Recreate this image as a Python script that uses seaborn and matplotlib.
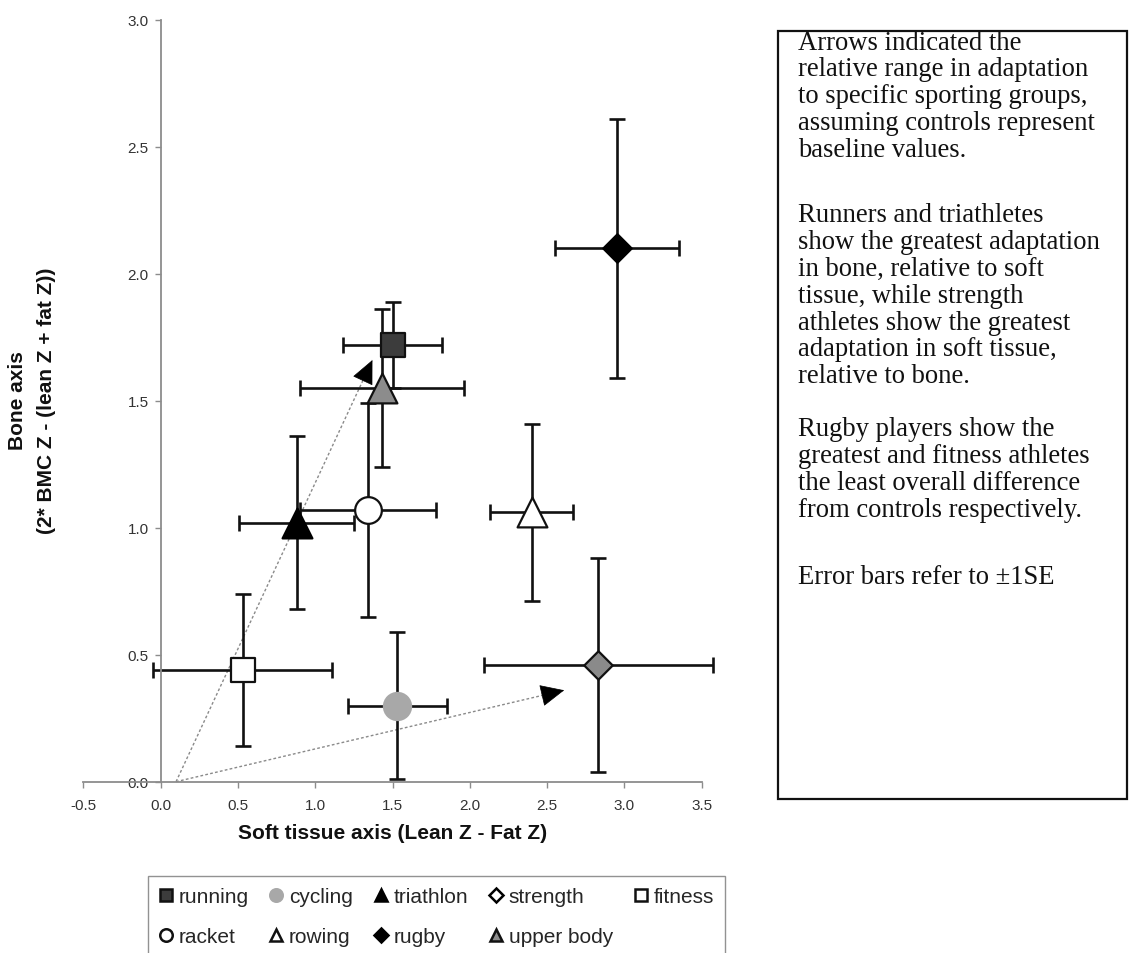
import matplotlib
matplotlib.use("Agg")
import matplotlib.pyplot as plt
from matplotlib.lines import Line2D
from matplotlib.patches import Rectangle
import seaborn as sns
import pandas as pd

# ---- data -------------------------------------------------------------
groups = ["running", "cycling", "triathlon", "strength", "fitness",
          "racket", "rowing", "rugby", "upper body"]
soft_tissue = [1.50, 1.53, 0.88, 2.83, 0.53, 1.34, 2.40, 2.95, 1.43]
bone = [1.72, 0.30, 1.02, 0.46, 0.44, 1.07, 1.06, 2.10, 1.55]
soft_tissue_se = [0.32, 0.32, 0.37, 0.74, 0.58, 0.44, 0.27, 0.40, 0.53]
bone_se = [0.17, 0.29, 0.34, 0.42, 0.30, 0.42, 0.35, 0.51, 0.31]

# arrows from the control baseline towards the extreme groups
arrow_start = [(0.10, 0.0), (0.10, 0.0)]
arrow_end = [(1.37, 1.66), (2.61, 0.36)]

x_ticks = [-0.5, 0.0, 0.5, 1.0, 1.5, 2.0, 2.5, 3.0, 3.5]
y_ticks = [0.0, 0.5, 1.0, 1.5, 2.0, 2.5, 3.0]

df = pd.DataFrame({"group": groups, "soft": soft_tissue, "bone": bone,
                   "soft_se": soft_tissue_se, "bone_se": bone_se})

# marker style per group: (marker, face, edge, size)
styles = {
    "running":    ("s", "#3c3c3c", "#111111", 300),
    "cycling":    ("o", "#a8a8a8", "#a8a8a8", 380),
    "triathlon":  ("^", "#000000", "#000000", 460),
    "strength":   ("D", "#8a8a8a", "#111111", 210),
    "fitness":    ("s", "#ffffff", "#111111", 300),
    "racket":     ("o", "#ffffff", "#111111", 370),
    "rowing":     ("^", "#ffffff", "#111111", 460),
    "rugby":      ("D", "#000000", "#000000", 210),
    "upper body": ("^", "#8c8c8c", "#111111", 460),
}

sns.set_theme(style="white")
plt.rcParams["font.family"] = ["Liberation Sans", "DejaVu Sans"]

fig = plt.figure(figsize=(11.3, 9.54), dpi=100)
ax = fig.add_axes([83.3 / 1130, 1 - 782.7 / 954,
                   (701.7 - 83.3) / 1130, (782.7 - 20.7) / 954])
ax.set_facecolor("white")

# error bars (±1 SE)
ax.errorbar(df["soft"], df["bone"], xerr=df["soft_se"], yerr=df["bone_se"],
            fmt="none", ecolor="#111111", elinewidth=1.9, capsize=5.5,
            capthick=1.9, zorder=2, clip_on=False)

# group means
for _, row in df.iterrows():
    m, fc, ec, s = styles[row["group"]]
    sns.scatterplot(x=[row["soft"]], y=[row["bone"]], marker=m, s=s,
                    color=fc, edgecolor=ec, linewidth=1.6, ax=ax,
                    zorder=4, legend=False, clip_on=False)

# dotted arrows
for (x0, y0), (x1, y1) in zip(arrow_start, arrow_end):
    ax.plot([x0, x1], [y0, y1], linestyle=(0, (2.0, 1.6)), color="#8a8a8a",
            linewidth=1.0, zorder=1, clip_on=False)
    dx, dy = x1 - x0, y1 - y0
    ax.annotate("", xy=(x1, y1), xytext=(x1 - dx * 0.01, y1 - dy * 0.01),
                arrowprops=dict(arrowstyle="-|>,head_length=1.3,head_width=0.6",
                                color="black", lw=0.5, shrinkA=0, shrinkB=0),
                zorder=3)

ax.set_xlim(-0.5, 3.5)
ax.set_ylim(0.0, 3.0)
ax.set_xticks(x_ticks)
ax.set_yticks(y_ticks)
ax.set_xticklabels([f"{v:.1f}" for v in x_ticks])
ax.set_yticklabels([f"{v:.1f}" for v in y_ticks])

for side in ["top", "right"]:
    ax.spines[side].set_visible(False)
ax.spines["left"].set_position(("data", 0.0))
for side in ["left", "bottom"]:
    ax.spines[side].set_color("#8c8c8c")
    ax.spines[side].set_linewidth(1.3)
ax.tick_params(axis="both", which="major", direction="out", length=4,
               width=1.0, color="#8c8c8c", labelsize=11, labelcolor="#333333",
               left=True, bottom=True)
ax.tick_params(axis="x", pad=7.5)
ax.tick_params(axis="y", pad=4.5)

fig.text(392.5 / 1130, 1 - 834 / 954, "Soft tissue axis (Lean Z - Fat Z)",
         ha="center", va="center", fontsize=15, fontweight="bold",
         color="#111111")
fig.text(18 / 1130, 1 - 401 / 954, "Bone axis",
         ha="center", va="center", rotation=90, fontsize=15,
         fontweight="bold", color="#111111")
fig.text(47 / 1130, 1 - 401 / 954, "(2* BMC Z - (lean Z + fat Z))",
         ha="center", va="center", rotation=90, fontsize=15,
         fontweight="bold", color="#111111")

# legend below the plot
legend_style = {
    "running":    ("s", "#3c3c3c", "#111111"),
    "cycling":    ("o", "#a8a8a8", "#a8a8a8"),
    "triathlon":  ("^", "#000000", "#000000"),
    "strength":   ("D", "#ffffff", "#000000"),
    "fitness":    ("s", "#ffffff", "#111111"),
    "racket":     ("o", "#ffffff", "#111111"),
    "rowing":     ("^", "#ffffff", "#111111"),
    "rugby":      ("D", "#000000", "#000000"),
    "upper body": ("^", "#8c8c8c", "#111111"),
}
order = ["running", "racket", "cycling", "rowing", "triathlon", "rugby",
         "strength", "upper body", "fitness"]
handles = []
for g in order:
    m, fc, ec = legend_style[g]
    ms = 9 if m != "D" else 7
    handles.append(Line2D([], [], linestyle="none", marker=m, markersize=ms,
                          markerfacecolor=fc, markeredgecolor=ec,
                          markeredgewidth=1.8, label=g))
leg = fig.legend(handles=handles, loc="upper left", ncol=5,
                 bbox_to_anchor=(148 / 1130, 1 - 877 / 954),
                 frameon=True, fancybox=False, fontsize=15,
                 handlelength=0.6, handletextpad=0.3, columnspacing=1.05,
                 borderpad=0.55, labelspacing=0.98, borderaxespad=0)
leg.get_frame().set_edgecolor("#777777")
leg.get_frame().set_linewidth(1.0)

# explanatory text box
fig.patches.append(Rectangle((778 / 1130, 1 - 800 / 954),
                             (1127 - 778) / 1130, (800 - 32) / 954,
                             transform=fig.transFigure, fill=False,
                             edgecolor="#111111", linewidth=1.6))
paragraphs = [
    ["Arrows indicated the", "relative range in adaptation",
     "to specific sporting groups,", "assuming controls represent",
     "baseline values."],
    ["Runners and triathletes", "show the greatest adaptation",
     "in bone, relative to soft", "tissue, while strength",
     "athletes show the greatest", "adaptation in soft tissue,",
     "relative to bone."],
    ["Rugby players show the", "greatest and fitness athletes",
     "the least overall difference", "from controls respectively."],
    ["Error bars refer to \u00b11SE"],
]
para_top = [43, 216, 430, 577]
line_step = 26.8
for top, lines in zip(para_top, paragraphs):
    for i, line in enumerate(lines):
        fig.text(798 / 1130, 1 - (top + i * line_step) / 954, line,
                 ha="left", va="center", fontsize=19.2,
                 family=["Liberation Serif", "DejaVu Serif"], color="#111111")

fig.savefig("out.png", dpi=100, facecolor="white")
